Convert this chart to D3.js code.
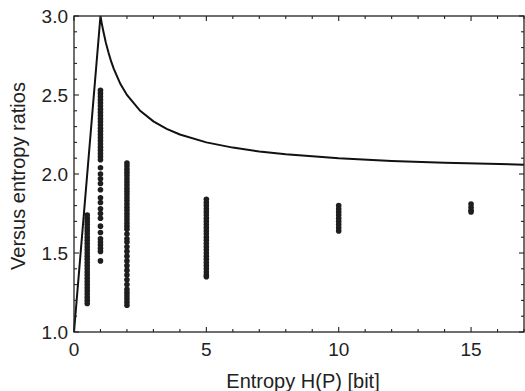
<!DOCTYPE html>
<html>
<head>
<meta charset="utf-8">
<script src="https://cdn.jsdelivr.net/npm/d3@7"></script>
<style>
  body { margin: 0; background: #fff; }
  text { font-family: "Liberation Sans", Arial, sans-serif; fill: #222; }
  .frame { fill: none; stroke: #222; stroke-width: 1.3; }
  .tick-mark { stroke: #222; stroke-width: 1.1; }
</style>
</head>
<body>
<div id="chart"></div>
<script>

// Entropy bound curve
var curveX = [0, 1, 1.05, 1.1, 1.2, 1.3, 1.4, 1.5, 1.75, 2, 2.5, 3, 3.5, 4, 5, 6, 7, 8, 10, 12, 14, 17];
var curveY = [1, 3, 2.952, 2.91, 2.833, 2.77, 2.714, 2.667, 2.571, 2.5, 2.4, 2.333, 2.286, 2.25, 2.2, 2.167, 2.143, 2.125, 2.1, 2.083, 2.071, 2.059];

// scatter columns: entropy value and the ratios found at it
var colX = [0.5, 1, 2, 5, 10, 15];
var ratios05 = [1.74, 1.72, 1.70, 1.68, 1.66, 1.64, 1.62, 1.60, 1.58, 1.56, 1.54, 1.52, 1.50, 1.48, 1.46, 1.44, 1.42,
  1.40, 1.38, 1.36, 1.34, 1.32, 1.30, 1.28, 1.26, 1.24, 1.22, 1.20, 1.18];
var ratios1 = [2.53, 2.51, 2.49, 2.47, 2.45, 2.43, 2.41, 2.39, 2.37, 2.35, 2.33, 2.31, 2.29, 2.27, 2.25, 2.23, 2.21,
  2.19, 2.17, 2.15, 2.13, 2.11, 2.09, 2.04, 2.00, 1.97, 1.94, 1.90, 1.85, 1.82, 1.78, 1.75, 1.72, 1.67, 1.63,
  1.59, 1.57, 1.55, 1.53, 1.51, 1.45];
var ratios2 = [2.07, 2.05, 2.03, 2.01, 1.99, 1.97, 1.95, 1.93, 1.91, 1.89, 1.87, 1.85, 1.83, 1.81, 1.79, 1.77, 1.75,
  1.73, 1.71, 1.69, 1.67, 1.65, 1.62, 1.59, 1.57, 1.54, 1.51, 1.48, 1.45, 1.42, 1.39, 1.36, 1.33, 1.30, 1.27,
  1.25, 1.23, 1.21, 1.19, 1.17];
var ratios5 = [1.84, 1.82, 1.80, 1.78, 1.76, 1.74, 1.72, 1.70, 1.68, 1.66, 1.64, 1.62, 1.60, 1.58, 1.56, 1.54, 1.52,
  1.50, 1.48, 1.46, 1.44, 1.42, 1.40, 1.38, 1.36, 1.35];
var ratios10 = [1.80, 1.78, 1.76, 1.74, 1.72, 1.70, 1.68, 1.66, 1.64];
var ratios15 = [1.81, 1.79, 1.77, 1.76];

var xTicks = [0, 5, 10, 15];
var yTicks = [1.0, 1.5, 2.0, 2.5, 3.0];

var labels = { x: "Entropy H(P) [bit]", y: "Versus entropy ratios" };


RatioPlot = function(_parentElement){
  var vis = this;
  vis.parentElement = _parentElement;
  vis.initVis();
};

RatioPlot.prototype.initVis = function(){
  var vis = this;

  vis.margin = { top: 16, right: 1, bottom: 59, left: 74 };
  vis.width = 525 - vis.margin.left - vis.margin.right;
  vis.height = 391 - vis.margin.top - vis.margin.bottom;

  vis.svg = d3.select("#" + vis.parentElement).append("svg")
    .attr("width", 525)
    .attr("height", 391)
    .append("g")
    .attr("transform", "translate(" + vis.margin.left + "," + vis.margin.top + ")");

  vis.x = d3.scaleLinear().domain([0, 17]).range([0, vis.width]);
  vis.y = d3.scaleLinear().domain([1, 3]).range([vis.height, 0]);

  vis.wrangleData();
};

RatioPlot.prototype.wrangleData = function(){
  var vis = this;

  var cols = [ratios05, ratios1, ratios2, ratios5, ratios10, ratios15];
  vis.points = [];
  cols.forEach(function(c, i){
    c.forEach(function(r){ vis.points.push({ h: colX[i], r: r }); });
  });

  vis.curve = curveX.map(function(d, i){ return { h: d, r: curveY[i] }; });

  vis.updateVis();
};

RatioPlot.prototype.updateVis = function(){
  var vis = this;

  // dots
  vis.svg.selectAll(".dot").data(vis.points).enter().append("circle")
    .attr("class", "dot")
    .attr("cx", function(d){ return vis.x(d.h); })
    .attr("cy", function(d){ return vis.y(d.r); })
    .attr("r", 2.8)
    .attr("fill", "#1e1e1e");

  // bound curve
  var line = d3.line()
    .x(function(d){ return vis.x(d.h); })
    .y(function(d){ return vis.y(d.r); })
    .curve(d3.curveLinear);

  vis.svg.append("path")
    .datum(vis.curve)
    .attr("d", line)
    .attr("fill", "none")
    .attr("stroke", "#111")
    .attr("stroke-width", 2);

  // ticks on all four sides, pointing in
  var xMinor = d3.range(0, 18, 1);
  var yMinor = d3.range(1, 3.001, 0.1);

  xMinor.forEach(function(v){
    var len = (v % 5 === 0) ? 5 : 3;
    var px = vis.x(v);
    vis.svg.append("line").attr("class", "tick-mark")
      .attr("x1", px).attr("x2", px).attr("y1", vis.height).attr("y2", vis.height - len);
    vis.svg.append("line").attr("class", "tick-mark")
      .attr("x1", px).attr("x2", px).attr("y1", 0).attr("y2", len);
  });

  yMinor.forEach(function(v){
    var major = Math.abs(v * 2 - Math.round(v * 2)) < 1e-6;
    var len = major ? 5 : 3;
    var py = vis.y(v);
    vis.svg.append("line").attr("class", "tick-mark")
      .attr("x1", 0).attr("x2", len).attr("y1", py).attr("y2", py);
    vis.svg.append("line").attr("class", "tick-mark")
      .attr("x1", vis.width).attr("x2", vis.width - len).attr("y1", py).attr("y2", py);
  });

  vis.svg.append("rect")
    .attr("class", "frame")
    .attr("x", 0).attr("y", 0)
    .attr("width", vis.width).attr("height", vis.height);

  // tick labels
  vis.svg.selectAll(".xlab").data(xTicks).enter().append("text")
    .attr("class", "xlab")
    .attr("x", function(d){ return vis.x(d); })
    .attr("y", vis.height + 24)
    .attr("text-anchor", "middle")
    .style("font-size", "19px")
    .text(function(d){ return d; });

  vis.svg.selectAll(".ylab").data(yTicks).enter().append("text")
    .attr("class", "ylab")
    .attr("x", -6)
    .attr("y", function(d){ return vis.y(d) + 7; })
    .attr("text-anchor", "end")
    .style("font-size", "19px")
    .text(function(d){ return d3.format(".1f")(d); });

  // axis titles
  vis.svg.append("text")
    .attr("text-anchor", "middle")
    .attr("transform", "translate(" + (vis.width / 2 + 4) + "," + (vis.height + 56) + ")")
    .style("font-size", "20px")
    .text(labels.x);

  vis.svg.append("text")
    .attr("text-anchor", "middle")
    .attr("transform", "translate(-49," + (vis.height / 2 + 2) + ")rotate(-90)")
    .style("font-size", "20px")
    .text(labels.y);
};

new RatioPlot("chart");
</script>
</body>
</html>
